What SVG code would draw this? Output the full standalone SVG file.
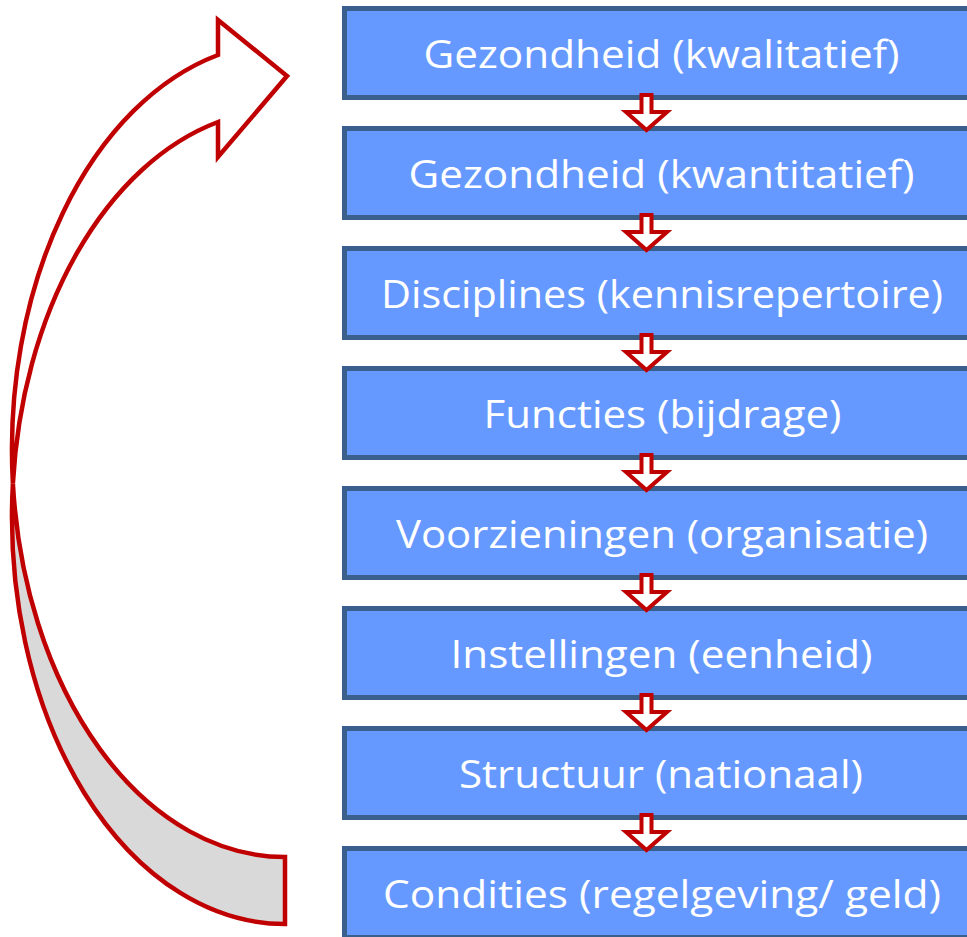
<svg xmlns="http://www.w3.org/2000/svg" xmlns:xlink="http://www.w3.org/1999/xlink" width="967" height="937" viewBox="0 0 967 937">
<style>
.box{fill:#6699FF;stroke:#3A5F8C;stroke-width:5}
.lbl{font-family:"Open Sans","Liberation Sans",sans-serif;font-size:38px;fill:#FFFFFF;text-anchor:middle}
.sa{fill:#FFFFFF;stroke:#C00000;stroke-width:4;stroke-linejoin:miter}
.big{stroke:#C00000;stroke-width:4.5;stroke-linejoin:miter}
</style>
<defs>
<path id="down" class="sa" d="M641.5,95 H651.5 V112 H667 L646.5,130 L626,112 H641.5 Z"/>
</defs>
<rect width="967" height="937" fill="#FFFFFF"/>
<g id="curved-arrow">
<path class="big" fill="#D9D9D9" d="M12.9,483.5 A273,407 0 0 0 285,924 L285,857 A273,407 0 0 1 12.9,483.5 Z"/>
<path class="big" fill="#FFFFFF" d="M218,55 L218,20 L287,76 L218,157 L218,122 A273,407 0 0 0 12.9,483.5 A273,407 0 0 1 218,55 Z"/>
</g>
<g id="n1"><rect class="box" x="344.5" y="8.5" width="700" height="89"/><text class="lbl" x="661.5" y="67.5" textLength="476" lengthAdjust="spacingAndGlyphs">Gezondheid (kwalitatief)</text></g>
<g id="n2"><rect class="box" x="344.5" y="128.5" width="700" height="89"/><text class="lbl" x="661.5" y="187.5" textLength="506" lengthAdjust="spacingAndGlyphs">Gezondheid (kwantitatief)</text></g>
<g id="n3"><rect class="box" x="344.5" y="248.5" width="700" height="89"/><text class="lbl" x="662" y="307.5" textLength="562" lengthAdjust="spacingAndGlyphs">Disciplines (kennisrepertoire)</text></g>
<g id="n4"><rect class="box" x="344.5" y="368.5" width="700" height="89"/><text class="lbl" x="662.5" y="427.5" textLength="358" lengthAdjust="spacingAndGlyphs">Functies (bijdrage)</text></g>
<g id="n5"><rect class="box" x="344.5" y="488.5" width="700" height="89"/><text class="lbl" x="662" y="547.5" textLength="532" lengthAdjust="spacingAndGlyphs">Voorzieningen (organisatie)</text></g>
<g id="n6"><rect class="box" x="344.5" y="608.5" width="700" height="89"/><text class="lbl" x="661.5" y="667.5" textLength="422" lengthAdjust="spacingAndGlyphs">Instellingen (eenheid)</text></g>
<g id="n7"><rect class="box" x="344.5" y="728.5" width="700" height="89"/><text class="lbl" x="661" y="787.5" textLength="404" lengthAdjust="spacingAndGlyphs">Structuur (nationaal)</text></g>
<g id="n8"><rect class="box" x="344.5" y="848.5" width="700" height="89"/><text class="lbl" x="662" y="907.5" textLength="558" lengthAdjust="spacingAndGlyphs">Condities (regelgeving/ geld)</text></g>
<g id="connectors">
<use xlink:href="#down"/>
<use xlink:href="#down" transform="translate(0,120)"/>
<use xlink:href="#down" transform="translate(0,240)"/>
<use xlink:href="#down" transform="translate(0,360)"/>
<use xlink:href="#down" transform="translate(0,480)"/>
<use xlink:href="#down" transform="translate(0,600)"/>
<use xlink:href="#down" transform="translate(0,720)"/>
</g>
</svg>
